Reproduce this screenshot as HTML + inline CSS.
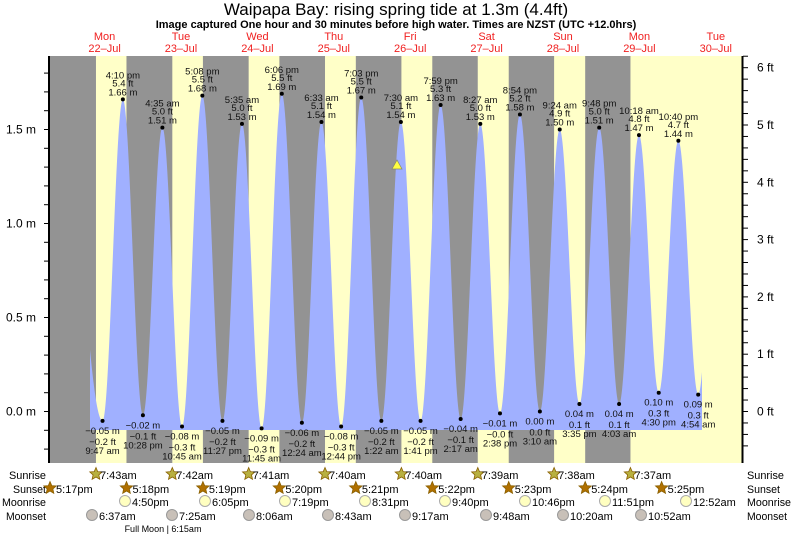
<!DOCTYPE html>
<html><head><meta charset="utf-8"><style>
body{margin:0;background:#fff;}
svg{display:block;font-family:"Liberation Sans",sans-serif;}
</style></head><body>
<svg id="s" width="793" height="537" xmlns="http://www.w3.org/2000/svg"></svg>
<script>
const S=document.getElementById('s');let h='';
const P=76.4,X0=71.4;
const X=t=>X0+P*t; const Y=m=>411.5-188*m;
const L=50,R=742,T=56,B=463;
h+=`<rect x="${L}" y="${T}" width="${R-L}" height="${B-T}" fill="#ffffc8"/>`;
const rise=[7+43/60,7+42/60,7+41/60,7+40/60,7+40/60,7+39/60,7+38/60,7+37/60];
const set=[17+17/60,17+18/60,17+19/60,17+20/60,17+21/60,17+22/60,17+23/60,17+24/60,17+25/60];
let prevSet=L;
for(let d=0;d<8;d++){const sr=X(d+rise[d]/24);h+=`<rect x="${prevSet}" y="${T}" width="${sr-prevSet}" height="${B-T}" fill="#939393"/>`;prevSet=X(d+set[d+1]/24);}
const ex=[[0,-2.2,1.5],[0,9+47/60,-0.05],[0,16+10/60,1.66],[0,22+28/60,-0.02],[1,4+35/60,1.51],[1,10+45/60,-0.08],[1,17+8/60,1.68],[1,23+27/60,-0.05],[2,5+35/60,1.53],[2,11+45/60,-0.09],[2,18+6/60,1.69],[3,24/60,-0.06],[3,6+33/60,1.54],[3,12+44/60,-0.08],[3,19+3/60,1.67],[4,1+22/60,-0.05],[4,7.5,1.54],[4,13+41/60,-0.05],[4,19+59/60,1.63],[5,2+17/60,-0.04],[5,8+27/60,1.53],[5,14+38/60,-0.01],[5,20+54/60,1.58],[6,3+10/60,0.00],[6,9+24/60,1.50],[6,15+35/60,0.04],[6,21+48/60,1.51],[7,4+3/60,0.04],[7,10+18/60,1.47],[7,16.5,0.10],[7,22+40/60,1.44],[8,4+54/60,0.09],[8,11,1.4]];
const pts=ex.map(e=>[X(e[0]+e[1]/24),e[2]]);
const x1=90,x2=702;let d=`M${x1},430`;
for(let x=x1;x<=x2;x+=0.5){let i=0;while(pts[i+1][0]<x)i++;const a=pts[i],b=pts[i+1];const f=(x-a[0])/(b[0]-a[0]);const m=a[1]+(b[1]-a[1])*(1-Math.cos(Math.PI*f))/2;d+=`L${x},${Y(m).toFixed(1)}`;}
d+=`L${x2},430Z`;h+=`<path d="${d}" fill="#a0b0ff"/>`;
const fmt=(t)=>{let hh=Math.floor(t),mm=Math.round((t-hh)*60);let ap=hh>=12?'pm':'am';let h12=hh%12;if(h12==0)h12=12;return h12+':'+String(mm).padStart(2,'0')+' '+ap;};
for(let i=1;i<ex.length-1;i++){const e=ex[i];const x=X(e[0]+e[1]/24),y=Y(e[2]);const ft=(e[2]/0.3048).toFixed(1).replace('-','\u2212');const mm=e[2].toFixed(2).replace('-','\u2212');
h+=`<circle cx="${x}" cy="${y}" r="2" fill="#000"/>`;
if(e[2]>1){h+=`<g font-size="9.5" text-anchor="middle" fill="#111"><text x="${x}" y="${y-21}">${fmt(e[1])}</text><text x="${x}" y="${y-13}">${ft} ft</text><text x="${x}" y="${y-4}">${mm} m</text></g>`;}
else{h+=`<g font-size="9.5" text-anchor="middle" fill="#111"><text x="${x}" y="${y+13}">${mm} m</text><text x="${x}" y="${y+24}">${ft} ft</text><text x="${x}" y="${y+33}">${fmt(e[1])}</text></g>`;}}
h+=`<polygon points="397,160 392,169 402,169" fill="#ffff40" stroke="#886" stroke-width="0.7"/>`;
h+=`<line x1="49" y1="${T}" x2="49" y2="${B}" stroke="#000" stroke-width="2"/><line x1="742.5" y1="${T}" x2="742.5" y2="${B}" stroke="#000" stroke-width="2"/>`;
for(let k=-2;k<=18;k++){const y=Y(k/10);if(y<T||y>B)continue;h+=`<line x1="44" y1="${y}" x2="49" y2="${y}" stroke="#000"/>`;}
[[0,'0.0 m'],[0.5,'0.5 m'],[1,'1.0 m'],[1.5,'1.5 m']].forEach(a=>{h+=`<text x="36" y="${Y(a[0])+4}" font-size="12" text-anchor="end">${a[1]}</text>`;});
for(let k=-3;k<=31;k++){const y=Y(k*0.2*0.3048);if(y<T||y>B)continue;h+=`<line x1="743" y1="${y}" x2="748" y2="${y}" stroke="#000"/>`;}
for(let f=0;f<=6;f++){h+=`<text x="757" y="${Y(f*0.3048)+4}" font-size="12">${f} ft</text>`;}
h+=`<text x="396" y="15" font-size="17" text-anchor="middle">Waipapa Bay: rising  spring tide at 1.3m (4.4ft)</text>`;
h+=`<text x="396" y="28" font-size="11" font-weight="bold" text-anchor="middle">Image captured One hour and 30 minutes before high water. Times are NZST (UTC +12.0hrs)</text>`;
const dn=['Mon','Tue','Wed','Thu','Fri','Sat','Sun','Mon','Tue'];
for(let i=0;i<9;i++){const x=X(i+0.5)-5;h+=`<g fill="#f02020" font-size="11" text-anchor="middle"><text x="${x}" y="40">${dn[i]}</text><text x="${x}" y="52">${22+i}\u2013Jul</text></g>`;}
const lab=[['Sunrise',479,37],['Sunset',493,33],['Moonrise',506,44],['Moonset',520,40]];
lab.forEach(l=>{h+=`<text x="${46-l[2]}" y="${l[1]}" font-size="11" textLength="${l[2]}" lengthAdjust="spacingAndGlyphs">${l[0]}</text><text x="747" y="${l[1]}" font-size="11" textLength="${l[2]}" lengthAdjust="spacingAndGlyphs">${l[0]}</text>`;});
const star=(x,y,f)=>{let p='';for(let k=0;k<10;k++){const r=k%2?3:6.5,a=-Math.PI/2+k*Math.PI/5;p+=`${(x+r*Math.cos(a)).toFixed(1)},${(y+r*Math.sin(a)).toFixed(1)} `;}return `<polygon points="${p}" fill="${f}" stroke="#8a6000" stroke-width="0.8"/>`;};
const t2=(t)=>{let hh=Math.floor(t),mm=Math.round((t-hh)*60);let ap=hh>=12?'pm':'am';let h12=hh%12;if(h12==0)h12=12;return h12+':'+String(mm).padStart(2,'0')+ap;};
for(let i=0;i<8;i++){const x=X(i+rise[i]/24);h+=star(x,474,'#b8b040')+`<text x="${x+4}" y="479" font-size="11">${t2(rise[i])}</text>`;}
for(let i=0;i<9;i++){const x=X(i-1+set[i]/24);h+=star(x,488,'#b07000')+`<text x="${x+6}" y="493" font-size="11">${t2(set[i])}</text>`;}
const mr=[[125,'4:50pm'],[205,'6:05pm'],[285,'7:19pm'],[365,'8:31pm'],[445,'9:40pm'],[525,'10:46pm'],[605,'11:51pm'],[686,'12:52am']];
mr.forEach(m=>{h+=`<circle cx="${m[0]}" cy="501" r="5.5" fill="#ffffc0" stroke="#aaa"/><text x="${m[0]+7}" y="506" font-size="11">${m[1]}</text>`;});
const ms=[[92,'6:37am'],[172,'7:25am'],[249,'8:06am'],[328,'8:43am'],[405,'9:17am'],[486,'9:48am'],[563,'10:20am'],[641,'10:52am']];
ms.forEach(m=>{h+=`<circle cx="${m[0]}" cy="515" r="5.5" fill="#c8c0b8" stroke="#999"/><text x="${m[0]+7}" y="520" font-size="11">${m[1]}</text>`;});
h+=`<text x="163" y="532" font-size="9" text-anchor="middle">Full Moon | 6:15am</text>`;
S.innerHTML=h;
</script>
</body></html>
